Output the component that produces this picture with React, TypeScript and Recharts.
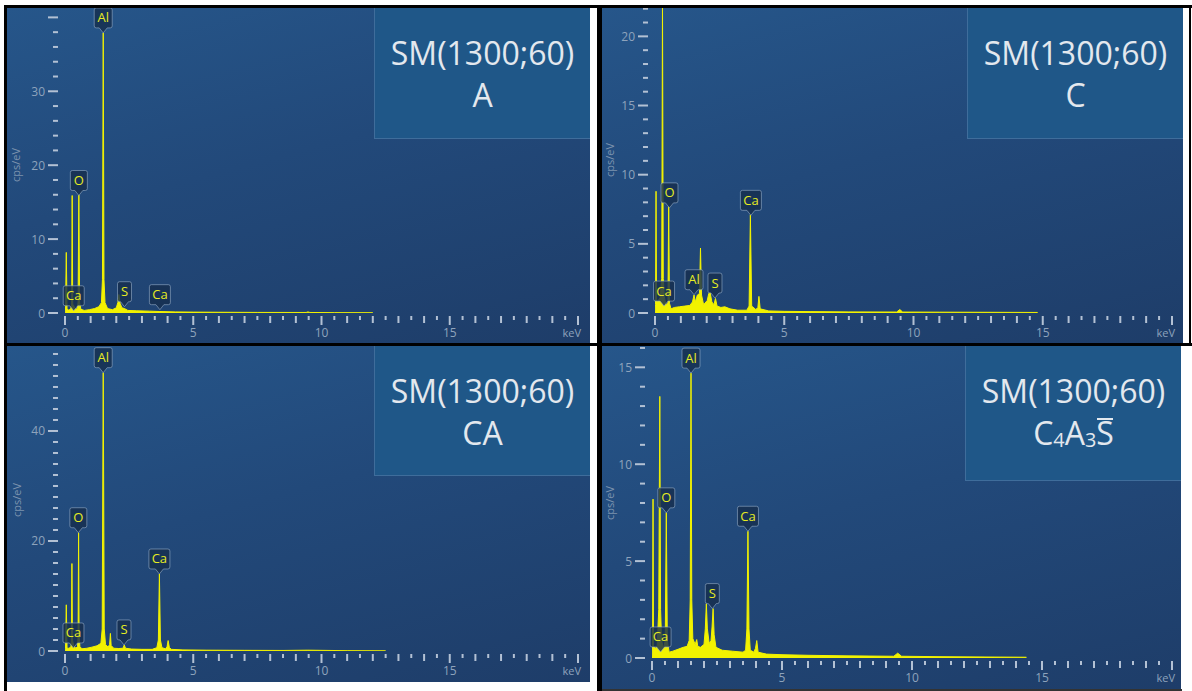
import React from 'react';
import { AreaChart, Area, XAxis, YAxis, ReferenceDot } from 'recharts';

type Pt = [number, number];
type Tag = [string, number, number];

// energy (keV) / count rate (cps/eV)
const spectrumA: Pt[] = [
  [0, 0], [0.02, 0.4], [0.05, 8.2], [0.08, 0.5], [0.14, 0.4], [0.22, 0.5], [0.26, 1.2], [0.28, 15.9],
  [0.3, 1.2], [0.34, 1.0], [0.4, 0.5], [0.48, 0.6], [0.51, 1.5], [0.54, 16.0], [0.57, 1.4], [0.62, 0.5],
  [0.75, 0.35], [0.95, 0.45], [1.15, 0.6], [1.32, 0.85], [1.42, 1.4], [1.46, 4.5], [1.49, 37.9], [1.52, 4.5],
  [1.56, 1.4], [1.66, 0.6], [1.85, 0.45], [2.0, 0.7], [2.06, 1.4], [2.1, 2.5], [2.15, 1.3], [2.22, 0.7],
  [2.32, 0.6], [2.45, 0.35], [2.8, 0.3], [3.3, 0.25], [3.7, 0.2], [4.3, 0.15], [5, 0.12], [6, 0.1],
  [7.5, 0.08], [9.4, 0.07], [9.47, 0.15], [9.55, 0.07], [10.5, 0.05], [12, 0.04],
];
const spectrumC: Pt[] = [
  [0, 0], [0.02, 0.6], [0.04, 8.8], [0.06, 0.8], [0.12, 0.9], [0.2, 1.1], [0.26, 2.5], [0.29, 22.5],
  [0.32, 2.5], [0.36, 1.2], [0.42, 0.6], [0.5, 0.7], [0.53, 7.7], [0.56, 0.7], [0.62, 0.3], [0.75, 0.4],
  [0.95, 0.45], [1.15, 0.5], [1.35, 0.55], [1.45, 0.8], [1.51, 1.3], [1.56, 0.8], [1.64, 1.3], [1.72, 1.4],
  [1.76, 4.7], [1.8, 1.3], [1.88, 0.6], [2.02, 0.9], [2.08, 1.4], [2.13, 1.5], [2.2, 0.8], [2.28, 0.6],
  [2.34, 1.05], [2.4, 0.5], [2.55, 0.4], [2.7, 0.45], [2.9, 0.3], [3.2, 0.2], [3.55, 0.2], [3.64, 0.5],
  [3.69, 7.1], [3.74, 0.5], [3.9, 0.25], [3.98, 0.4], [4.02, 1.2], [4.07, 0.3], [4.4, 0.15], [5, 0.12],
  [6, 0.1], [7.5, 0.08], [9.35, 0.07], [9.47, 0.25], [9.58, 0.07], [11, 0.06], [13, 0.05], [14.8, 0.04],
];
const spectrumCA: Pt[] = [
  [0, 0], [0.02, 0.5], [0.05, 8.4], [0.08, 0.5], [0.15, 0.5], [0.23, 0.7], [0.25, 2], [0.27, 15.9],
  [0.29, 2], [0.34, 1.0], [0.42, 0.5], [0.49, 0.8], [0.51, 3], [0.53, 21.5], [0.55, 3], [0.58, 0.8],
  [0.66, 0.4], [0.85, 0.5], [1.05, 0.7], [1.25, 0.95], [1.4, 1.4], [1.45, 4], [1.49, 50.6], [1.53, 4],
  [1.58, 1.2], [1.68, 0.7], [1.74, 1.2], [1.77, 3.2], [1.8, 1.0], [1.9, 0.5], [2.1, 0.45], [2.26, 0.5],
  [2.31, 1.1], [2.36, 0.5], [2.6, 0.35], [3.0, 0.3], [3.4, 0.3], [3.58, 0.6], [3.64, 2], [3.68, 14.0],
  [3.72, 2], [3.78, 0.6], [3.92, 0.4], [3.98, 0.8], [4.02, 1.9], [4.07, 0.6], [4.15, 0.3], [4.6, 0.2],
  [5.5, 0.15], [7, 0.12], [8.5, 0.1], [9.47, 0.15], [11, 0.06], [12.5, 0.04],
];
const spectrumCAS: Pt[] = [
  [0, 0], [0.02, 0.6], [0.04, 8.2], [0.06, 0.6], [0.12, 0.5], [0.2, 0.6], [0.26, 2.5], [0.3, 13.5],
  [0.33, 2.5], [0.37, 0.9], [0.44, 0.5], [0.51, 0.9], [0.55, 7.5], [0.59, 0.9], [0.66, 0.3], [0.8, 0.35],
  [1.0, 0.45], [1.2, 0.55], [1.35, 0.6], [1.43, 0.9], [1.47, 3], [1.5, 14.7], [1.53, 3], [1.57, 1.0],
  [1.66, 0.7], [1.72, 0.95], [1.76, 0.6], [1.86, 0.55], [2.0, 0.7], [2.05, 1.5], [2.09, 2.8], [2.13, 1.5],
  [2.2, 0.75], [2.27, 0.9], [2.31, 1.6], [2.35, 2.55], [2.39, 1.2], [2.46, 0.55], [2.7, 0.4], [3.1, 0.35],
  [3.5, 0.3], [3.6, 0.4], [3.65, 1.5], [3.69, 6.54], [3.73, 1.5], [3.78, 0.4], [3.92, 0.3], [3.98, 0.5],
  [4.03, 0.9], [4.08, 0.3], [4.4, 0.2], [5, 0.17], [6, 0.14], [7.5, 0.11], [9.3, 0.09], [9.45, 0.25],
  [9.6, 0.09], [11, 0.07], [13, 0.05], [14.4, 0.04],
];

// element markers: [label, keV, cps/eV at the tip]
const tagsA: Tag[] = [['Ca', 0.34, 0.3], ['O', 0.54, 15.9], ['Al', 1.49, 37.9], ['S', 2.32, 0.85], ['Ca', 3.7, 0.45]];
const tagsC: Tag[] = [['Ca', 0.35, 0.5], ['O', 0.56, 7.6], ['Al', 1.51, 1.32], ['S', 2.32, 1.08], ['Ca', 3.71, 7.06]];
const tagsCA: Tag[] = [['Ca', 0.33, 0.55], ['O', 0.52, 21.5], ['Al', 1.49, 50.6], ['S', 2.3, 1.1], ['Ca', 3.68, 14.0]];
const tagsCAS: Tag[] = [['Ca', 0.33, 0.31], ['O', 0.55, 7.49], ['Al', 1.5, 14.7], ['S', 2.32, 2.55], ['Ca', 3.69, 6.54]];

const xTicks = [
  0, 0.5, 1, 1.5, 2, 2.5, 3, 3.5, 4, 4.5, 5, 5.5, 6, 6.5, 7, 7.5, 8, 8.5, 9, 9.5, 10,
  10.5, 11, 11.5, 12, 12.5, 13, 13.5, 14, 14.5, 15, 15.5, 16, 16.5, 17, 17.5, 18, 18.5, 19, 19.5, 20,
];
const xLabels = [0, 5, 10, 15];
const xUnit = 'keV';
const yUnit = 'cps/eV';
const sampleName = 'SM(1300;60)';

const TICK = '#b3c1d4';
const LABEL = '#8ea3bc';
const YELLOW = '#f2f200';

function steps(max: number, step: number) {
  const out: number[] = [];
  for (let v = 0; v <= max + 1e-9; v += step) out.push(Math.round(v * 100) / 100);
  return out;
}

const XTick = ({ x, y, payload }: any) => {
  const v = payload.value;
  const major = Math.abs(v % 5) < 1e-9;
  const whole = Math.abs(v % 1) < 1e-9;
  const len = major ? 9 : whole ? 7 : 4;
  return (
    <g>
      <rect x={x - 1} y={y + 3} width={2} height={len} fill={TICK} />
      {xLabels.includes(v) && (
        <text x={x} y={y + 24} textAnchor="middle" fill={LABEL} fontSize={12}>{v}</text>
      )}
      {v === 20 && (
        <text x={x + 3} y={y + 24} textAnchor="end" fill={LABEL} fontSize={11}>{xUnit}</text>
      )}
    </g>
  );
};

const makeYTick = (majorStep: number, labels: number[]) => ({ x, y, payload }: any) => {
  const v = payload.value;
  const major = Math.abs(v % majorStep) < 1e-9;
  const len = major ? 10 : 5;
  return (
    <g>
      <rect x={x - 7 - len} y={y - 1} width={len} height={2} fill={TICK} />
      {labels.includes(v) && (
        <text x={x - 20} y={y + 4.5} textAnchor="end" fill={LABEL} fontSize={12}>{v}</text>
      )}
    </g>
  );
};

function PeakTag({ cx, cy, text }: { cx: number; cy: number; text: string }) {
  const w = text === 'Ca' ? 21 : text === 'Al' ? 18 : text === 'O' ? 17 : 14;
  const h = 20;
  const x0 = cx - w / 2;
  const x1 = cx + w / 2;
  const y1 = cy - 5;
  const y0 = y1 - h;
  const d = `M${x0 + 2},${y0} H${x1 - 2} Q${x1},${y0} ${x1},${y0 + 2} V${y1 - 2} Q${x1},${y1} ${x1 - 2},${y1} H${cx + 4} L${cx},${cy} L${cx - 4},${y1} H${x0 + 2} Q${x0},${y1} ${x0},${y1 - 2} V${y0 + 2} Q${x0},${y0} ${x0 + 2},${y0} Z`;
  return (
    <g>
      <path d={d} fill="rgba(22,46,78,0.82)" stroke="rgba(150,174,200,0.6)" strokeWidth={1} />
      <text x={cx} y={y0 + h / 2 + 4.5} textAnchor="middle" fill="#e6ec22" fontSize={13}>{text}</text>
    </g>
  );
}

interface PanelProps {
  left: number; top: number; width: number; height: number;
  plotLeft: number; rightPad: number; axisH: number;
  yMax: number; yStep: number; majorStep: number; yLabels: number[];
  spectrum: Pt[]; tags: Tag[];
  subtitle: React.ReactNode;
  box: { left: number; width: number; height: number };
  unitPos: [number, number];
}

function Panel(p: PanelProps) {
  const rows = p.spectrum.map(([e, c]) => ({ e, c }));
  const yTicks = steps(p.yMax, p.yStep);
  return (
    <div style={{
      position: 'absolute', left: p.left, top: p.top, width: p.width, height: p.height, overflow: 'hidden',
      background: 'linear-gradient(165deg, #26568a 0%, #22497a 45%, #1e3d69 100%)',
    }}>
      <div style={{ position: 'absolute', left: 0, top: 0 }}>
        <AreaChart width={p.width} height={p.height} data={rows} margin={{ top: 0, right: p.rightPad, bottom: 0, left: 0 }}>
          <XAxis dataKey="e" type="number" domain={[0, 20]} ticks={xTicks} interval={0} tick={XTick}
            tickLine={false} axisLine={false} height={p.axisH} tickSize={0} tickMargin={0} allowDataOverflow />
          <YAxis type="number" domain={[0, p.yMax]} ticks={yTicks} interval={0} tick={makeYTick(p.majorStep, p.yLabels)}
            width={p.plotLeft} tickLine={false} axisLine={false} tickSize={0} tickMargin={0} allowDataOverflow />
          <Area dataKey="c" type="linear" stroke={YELLOW} strokeWidth={1} fill={YELLOW} fillOpacity={1}
            isAnimationActive={false} dot={false} activeDot={false} />
          {p.tags.map((t, i) => (
            <ReferenceDot key={i} x={t[1]} y={t[2]} r={0} ifOverflow="visible"
              shape={(s: any) => <PeakTag cx={s.cx} cy={s.cy} text={t[0]} />} />
          ))}
        </AreaChart>
      </div>
      <span style={{
        position: 'absolute', left: p.unitPos[0], top: p.unitPos[1], transform: 'translate(-50%, -50%) rotate(-90deg)',
        fontSize: 11, color: '#7d93ae', whiteSpace: 'nowrap', lineHeight: '12px',
      }}>{yUnit}</span>
      <div style={{
        position: 'absolute', left: p.box.left, top: 0, width: p.box.width, height: p.box.height,
        background: '#1f5788', borderLeft: '1px solid #3f6d9b', borderBottom: '1px solid #3f6d9b',
        boxSizing: 'border-box', color: '#e3e8ee', fontSize: 32, lineHeight: '42px', textAlign: 'center', paddingTop: 24,
      }}>
        <div>{sampleName}</div>
        <div>{p.subtitle}</div>
      </div>
    </div>
  );
}

const subCAS = (
  <span>
    C<span style={{ fontSize: '0.62em', verticalAlign: '-0.12em' }}>4</span>A<span style={{ fontSize: '0.62em', verticalAlign: '-0.12em' }}>3</span>
    <span style={{ position: 'relative', display: 'inline-block' }}>
      S<span style={{ position: 'absolute', left: 1, right: 1, top: 6, height: 2, background: '#e3e8ee' }} />
    </span>
  </span>
);

export default function App() {
  return (
    <div style={{
      position: 'fixed', left: 0, top: 0, width: 1192, height: 691, background: '#fff', overflow: 'hidden',
      fontFamily: '"Open Sans", "Noto Sans", sans-serif',
    }}>
      <div style={{ position: 'absolute', left: 4, top: 5, width: 1188, height: 3, background: '#000' }} />
      <div style={{ position: 'absolute', left: 4, top: 5, width: 3, height: 686, background: '#000' }} />
      <div style={{ position: 'absolute', left: 597, top: 5, width: 5, height: 686, background: '#000' }} />
      <div style={{ position: 'absolute', left: 4, top: 343, width: 1188, height: 3, background: '#000' }} />
      <div style={{ position: 'absolute', left: 1189, top: 5, width: 2, height: 341, background: '#000' }} />
      <div style={{ position: 'absolute', left: 602, top: 689, width: 580, height: 2, background: '#333' }} />

      <Panel left={7} top={8} width={583} height={335} plotLeft={58} rightPad={12} axisH={30}
        yMax={41.27} yStep={2} majorStep={10} yLabels={[0, 10, 20, 30]}
        spectrum={spectrumA} tags={tagsA} subtitle="A"
        box={{ left: 367, width: 216, height: 131 }} unitPos={[9, 157]} />
      <Panel left={602} top={8} width={581} height={335} plotLeft={53} rightPad={11} axisH={30}
        yMax={22.05} yStep={1} majorStep={5} yLabels={[0, 5, 10, 15, 20]}
        spectrum={spectrumC} tags={tagsC} subtitle="C"
        box={{ left: 365, width: 216, height: 131 }} unitPos={[8, 152]} />
      <Panel left={7} top={346} width={583} height={336} plotLeft={58} rightPad={12} axisH={31}
        yMax={55.45} yStep={2} majorStep={20} yLabels={[0, 20, 40]}
        spectrum={spectrumCA} tags={tagsCA} subtitle="CA"
        box={{ left: 367, width: 216, height: 130 }} unitPos={[10, 154]} />
      <Panel left={602} top={346} width={579} height={343} plotLeft={50} rightPad={9} axisH={31}
        yMax={16.1} yStep={1} majorStep={5} yLabels={[0, 5, 10, 15]}
        spectrum={spectrumCAS} tags={tagsCAS} subtitle={subCAS}
        box={{ left: 363, width: 216, height: 135 }} unitPos={[8, 157]} />
    </div>
  );
}
